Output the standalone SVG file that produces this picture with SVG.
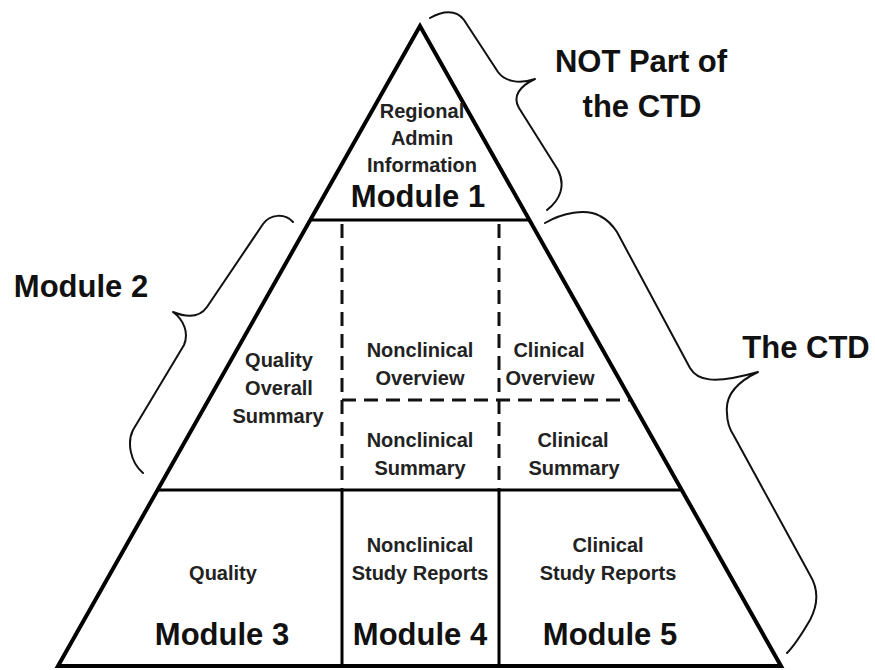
<svg xmlns="http://www.w3.org/2000/svg" width="875" height="670" viewBox="0 0 875 670">
<style>
.s{font-family:"Liberation Sans",Arial,sans-serif;font-weight:bold;font-size:20px;fill:#222;text-anchor:middle}
.b{font-family:"Liberation Sans",Arial,sans-serif;font-weight:bold;font-size:31px;fill:#111;text-anchor:middle}
.solid{stroke:#000;stroke-width:3;fill:none}
.dash{stroke:#111;stroke-width:3;fill:none;stroke-dasharray:14 8}
.brace{stroke:#111;stroke-width:2;fill:none;stroke-linecap:round;stroke-linejoin:round}
</style>
<rect width="875" height="670" fill="#fff"/>
<g id="pyramid">
<polygon points="420,26 58,666 781,666" fill="none" stroke="#000" stroke-width="4" stroke-linejoin="miter"/>
<line class="solid" x1="310" y1="220" x2="529" y2="220"/>
<line class="solid" x1="157" y1="490" x2="682" y2="490"/>
<line class="solid" x1="342" y1="490" x2="342" y2="666"/>
<line class="solid" x1="499" y1="490" x2="499" y2="666"/>
<line class="dash" x1="342" y1="224" x2="342" y2="490"/>
<line class="dash" x1="499" y1="224" x2="499" y2="490"/>
<line class="dash" x1="342" y1="400" x2="630" y2="400"/>
</g>
<g id="module1">
<text class="s" x="422" y="118">Regional</text>
<text class="s" x="422" y="145">Admin</text>
<text class="s" x="422" y="172">Information</text>
<text class="b" x="418" y="207">Module 1</text>
</g>
<g id="qos">
<text class="s" x="279" y="367">Quality</text>
<text class="s" x="279" y="395">Overall</text>
<text class="s" x="278" y="423">Summary</text>
</g>
<g id="nonclinical-overview">
<text class="s" x="420" y="357">Nonclinical</text>
<text class="s" x="420" y="385">Overview</text>
</g>
<g id="clinical-overview">
<text class="s" x="549" y="357">Clinical</text>
<text class="s" x="550" y="385">Overview</text>
</g>
<g id="nonclinical-summary">
<text class="s" x="420" y="447">Nonclinical</text>
<text class="s" x="420" y="475">Summary</text>
</g>
<g id="clinical-summary">
<text class="s" x="573" y="447">Clinical</text>
<text class="s" x="574" y="475">Summary</text>
</g>
<g id="module3">
<text class="s" x="223" y="580">Quality</text>
<text class="b" x="222" y="645">Module 3</text>
</g>
<g id="module4">
<text class="s" x="420" y="552">Nonclinical</text>
<text class="s" x="420" y="580">Study Reports</text>
<text class="b" x="420" y="645">Module 4</text>
</g>
<g id="module5">
<text class="s" x="608" y="552">Clinical</text>
<text class="s" x="608" y="580">Study Reports</text>
<text class="b" x="610" y="645">Module 5</text>
</g>
<g id="labels">
<text class="b" x="641" y="72">NOT Part of</text>
<text class="b" x="642" y="117">the CTD</text>
<text class="b" x="81" y="297">Module 2</text>
<text class="b" x="806" y="358">The CTD</text>
</g>
<g id="connectors">
<path class="brace" d="M430,18 C442,11 456,9 464,20 L498,72 C505,82 520,84 535,79 C520,86 512,96 519,108 L558,170 C566,186 560,200 547,210"/>
<path class="brace" d="M545,223 C562,213 586,208 600,216 C608,220 613,226 617,232 L690,368 C697,380 712,385 758,372 C737,382 725,396 727,413 C727,422 730,430 734,436 L810,575 C819,590 818,605 810,620 C803,632 795,645 787,653"/>
<path class="brace" d="M293,222 C285,213 270,214 263,224 L207,307 C200,317 188,318 173,312 C184,320 189,333 184,345 L133,430 C127,442 130,462 143,473"/>
</g>
</svg>
